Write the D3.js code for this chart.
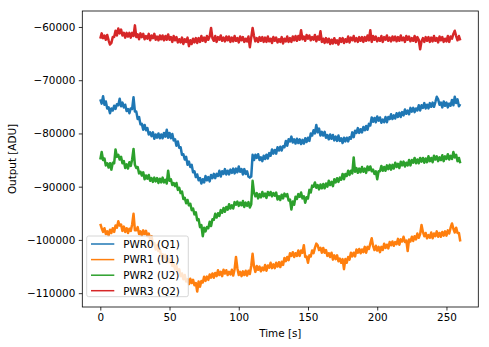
<!DOCTYPE html>
<html><head><meta charset="utf-8">
<script src="https://cdn.jsdelivr.net/npm/d3@7"></script>
<style>
html,body{margin:0;padding:0;background:#fff;}
text{font-family:"DejaVu Sans",sans-serif;}
</style></head>
<body><svg id="c" width="489" height="347"></svg>
<script>
const times = [0,1,2,3,4,5,6,7,8,9,10,11,12,13,14,15,16,17,18,19,20,21,22,23,24,25,26,27,28,29,30,31,32,33,34,35,36,37,38,39,40,41,42,43,44,45,46,47,48,49,50,51,52,53,54,55,56,57,58,59,60,61,62,63,64,65,66,67,68,69,70,71,72,73,74,75,76,77,78,79,80,81,82,83,84,85,86,87,88,89,90,91,92,93,94,95,96,97,98,99,100,101,102,103,104,105,106,107,108,109,110,111,112,113,114,115,116,117,118,119,120,121,122,123,124,125,126,127,128,129,130,131,132,133,134,135,136,137,138,139,140,141,142,143,144,145,146,147,148,149,150,151,152,153,154,155,156,157,158,159,160,161,162,163,164,165,166,167,168,169,170,171,172,173,174,175,176,177,178,179,180,181,182,183,184,185,186,187,188,189,190,191,192,193,194,195,196,197,198,199,200,201,202,203,204,205,206,207,208,209,210,211,212,213,214,215,216,217,218,219,220,221,222,223,224,225,226,227,228,229,230,231,232,233,234,235,236,237,238,239,240,241,242,243,244,245,246,247,248,249,250,251,252,253,254,255,256,257,258,259,260];

const pwr0 = [
-73600,-74400,-73000,-74600,-74000,-75300,-75100,-76200,-75300,-75700,
-74800,-75400,-74500,-74700,-73500,-74900,-74200,-75100,-74600,-75800,
-75400,-76200,-75300,-75400,-73200,-75900,-75900,-77300,-76900,-78300,
-78200,-79300,-78400,-79400,-79000,-80200,-79800,-80500,-79800,-81000,
-80200,-80800,-80000,-80900,-80200,-80900,-79900,-80600,-79300,-80800,
-79900,-80900,-80100,-81300,-81100,-82300,-81500,-82700,-82600,-84000,
-83900,-84900,-84400,-85900,-85300,-86300,-85900,-87300,-87100,-88200,
-87700,-88800,-88400,-89400,-88600,-89200,-88000,-88800,-88200,-89000,
-87800,-88400,-87600,-88400,-87600,-88000,-87000,-88100,-87100,-87600,
-86700,-87700,-87000,-87700,-86800,-87400,-86600,-87500,-86600,-87300,
-86200,-87200,-86700,-87700,-86700,-87600,-87100,-88100,-88300,-88100,
-84000,-85000,-84000,-84600,-83900,-85000,-84500,-85200,-84200,-84800,
-84000,-84700,-83700,-84200,-83000,-83800,-83100,-83800,-82600,-83200,
-82500,-83200,-82400,-82600,-81400,-82300,-81100,-81500,-80600,-81700,
-81100,-81900,-81000,-81800,-81100,-82000,-81200,-81900,-80900,-81600,
-80800,-81400,-80000,-80400,-79400,-80000,-78400,-79800,-79100,-80400,
-79700,-80400,-79700,-80800,-80300,-81100,-80200,-81000,-80300,-81300,
-80600,-81400,-80400,-81400,-80900,-81800,-80800,-81500,-80800,-81500,
-80700,-81000,-79800,-80700,-79500,-79900,-79000,-79900,-79200,-79800,
-78800,-79400,-78600,-79300,-78200,-78500,-77000,-77800,-77100,-77900,
-76800,-77600,-77000,-78000,-77400,-77900,-76900,-77900,-76900,-77300,
-76400,-77300,-76600,-77200,-76200,-76900,-76100,-76900,-76000,-76600,
-75500,-76300,-75700,-76400,-75200,-75900,-75200,-76000,-75300,-75700,
-74700,-75700,-74700,-75200,-74300,-75300,-74600,-75300,-74300,-75000,
-74200,-75000,-74100,-73100,-73600,-74600,-74200,-75100,-74000,-74800,
-74200,-75100,-74400,-74800,-73700,-74700,-73100,-74300,-73600,-74900,
-74500];

const pwr1 = [
-97000,-97800,-98500,-97800,-98900,-98400,-99200,-98100,-98700,-97800,
-98500,-97300,-97700,-96500,-97300,-97100,-98300,-97500,-98500,-97800,
-98700,-97900,-98300,-97100,-95100,-98200,-98200,-97600,-98900,-98400,
-99200,-98200,-98900,-98300,-99300,-98800,-99900,-99300,-100700,-100600,
-101800,-101000,-102100,-101800,-103000,-102700,-103500,-102800,-104200,-103500,
-104200,-103600,-104900,-104500,-105500,-104900,-105900,-105500,-106800,-106300,
-107400,-106600,-107800,-107400,-108300,-107300,-108100,-107500,-108500,-108100,
-109700,-107800,-108800,-107700,-108000,-106900,-107700,-106900,-107500,-106500,
-107100,-106300,-107100,-106200,-106800,-105700,-106600,-106000,-106800,-105600,
-106300,-105700,-106600,-106000,-106500,-105600,-106700,-105500,-103200,-105300,
-106600,-106000,-106800,-105900,-106600,-105800,-106700,-105800,-106400,-104900,
-102600,-105000,-106000,-104900,-105600,-105000,-105900,-105200,-105700,-104700,
-105800,-104800,-105200,-104300,-105300,-104600,-105300,-104300,-105000,-104200,
-105100,-104100,-104700,-103400,-104000,-103200,-103800,-102500,-103000,-102300,
-103200,-102500,-103000,-102000,-103000,-102000,-102400,-101000,-103200,-103100,
-104300,-102900,-103100,-102000,-102500,-101500,-100700,-101000,-101900,-101500,
-102400,-101500,-102400,-101900,-103000,-102500,-103200,-102400,-103700,-102900,
-103600,-102900,-104000,-103500,-104300,-103600,-105500,-103600,-104300,-103200,
-103700,-102400,-103100,-102400,-103100,-101800,-102400,-101700,-102500,-101800,
-102300,-101300,-102400,-101300,-101700,-100700,-99700,-101100,-101900,-101100,
-102000,-101300,-102300,-101300,-101900,-100700,-101500,-100900,-101600,-100400,
-101000,-100300,-101100,-100400,-100800,-99800,-100900,-99900,-100300,-99400,
-100400,-100100,-102100,-99900,-100300,-99400,-100200,-99300,-99900,-98800,
-99600,-98900,-97200,-98500,-99300,-98700,-99700,-99100,-99600,-98600,
-99700,-98800,-99300,-98400,-99400,-98700,-99400,-98500,-99200,-98400,
-99200,-98200,-98800,-97700,-96900,-97900,-98600,-97700,-98700,-98700,
-100300];

const pwr2 = [
-84900,-83500,-85000,-84700,-86000,-85600,-86400,-85600,-86800,-85500,
-85600,-83000,-84400,-84000,-84900,-84400,-85600,-85200,-86500,-85800,
-86600,-85400,-86100,-84900,-82900,-85900,-86500,-86300,-87500,-87200,
-87900,-87300,-88600,-87900,-88500,-87800,-88900,-88400,-89100,-88300,
-89000,-88400,-89300,-88500,-89200,-88300,-89200,-88700,-89400,-87000,
-88900,-88600,-89700,-89300,-89900,-89300,-90600,-90200,-91200,-90900,
-92300,-92100,-93100,-92500,-93500,-93200,-94400,-94100,-95200,-94800,
-96300,-96100,-97600,-97200,-99300,-97700,-98400,-97600,-97800,-96600,
-97400,-96100,-96200,-95100,-95800,-95000,-95500,-94400,-94900,-94000,
-94700,-93800,-94300,-93300,-94100,-93500,-94100,-92900,-93400,-92800,
-93600,-93000,-93500,-92700,-93800,-93000,-93600,-92900,-93900,-93300,
-88900,-91100,-91800,-91200,-92200,-91400,-92000,-91000,-91800,-91300,
-92100,-91000,-91600,-91000,-91800,-91200,-91700,-91100,-92400,-91800,
-92500,-91500,-92200,-91300,-91800,-91400,-92600,-92400,-94300,-92800,
-93400,-91900,-92300,-91400,-91900,-91100,-92200,-91800,-93000,-92000,
-92200,-90600,-91100,-89800,-90000,-89200,-90200,-89700,-90500,-89600,
-90300,-89500,-90300,-89400,-90000,-88900,-89700,-89100,-89900,-88600,
-89200,-88400,-89100,-88300,-88700,-87600,-88600,-87600,-88000,-87000,
-87800,-87000,-87500,-84500,-87200,-86500,-87400,-86600,-87300,-86300,
-87200,-86600,-87400,-86200,-86900,-86200,-87100,-86800,-87600,-87100,
-88600,-87100,-87100,-86100,-87000,-86300,-87000,-86000,-86700,-85900,
-86800,-85900,-86600,-85500,-86300,-85700,-86500,-85300,-86000,-85300,
-86200,-85500,-86000,-85000,-86000,-85000,-85500,-84600,-85600,-84900,
-85600,-84600,-85300,-84600,-85500,-84700,-85400,-84300,-85200,-84600,
-85400,-84200,-84900,-84300,-85200,-84500,-85000,-84100,-85200,-84300,
-84800,-83900,-84900,-84200,-84800,-83500,-84500,-84000,-85200,-84600,
-85600];

const pwr3 = [
-62200,-61200,-62100,-61600,-62400,-61500,-62500,-63300,-63000,-61900,
-61900,-60700,-61600,-60300,-61200,-60500,-61600,-61100,-62000,-61100,
-61800,-61100,-62000,-61100,-61700,-59700,-61900,-61400,-62300,-61200,
-61900,-61300,-62300,-61700,-62200,-61300,-62500,-61600,-62100,-61300,
-62400,-61800,-62500,-61600,-62300,-61600,-62500,-61700,-62400,-61400,
-62400,-61900,-62800,-61700,-62500,-61900,-62900,-62300,-62900,-62000,
-63200,-62300,-62800,-62000,-63600,-62500,-63200,-62200,-62900,-62100,
-63000,-62100,-62800,-61700,-62600,-62000,-62800,-61700,-62400,-61800,
-60200,-62100,-62600,-61700,-62800,-61900,-62400,-61600,-62600,-62000,
-62700,-61800,-62500,-61800,-62800,-62000,-62700,-61700,-62600,-62100,
-62900,-61800,-62500,-61900,-62800,-62200,-62700,-61800,-63800,-62000,
-60200,-61700,-62700,-62100,-62800,-61900,-62600,-61900,-62800,-62000,
-62800,-61800,-62700,-62200,-63000,-61900,-62600,-62000,-62900,-62300,
-62800,-61900,-63100,-62200,-62700,-61800,-62800,-62100,-62800,-61800,
-62500,-61700,-62600,-61700,-62400,-60600,-62300,-61800,-62600,-61500,
-62200,-61600,-62500,-61900,-62400,-61500,-62700,-61800,-62400,-60800,
-62800,-62200,-63000,-62100,-62900,-62200,-63200,-62400,-63100,-62100,
-63000,-62500,-63300,-62100,-62800,-62100,-63000,-62300,-62800,-61800,
-62900,-62000,-62500,-61700,-62700,-62100,-62800,-61900,-62600,-61900,
-62800,-61900,-62600,-61600,-62500,-60600,-62800,-61700,-62400,-61800,
-62700,-62100,-62600,-61700,-62800,-61900,-62400,-61600,-62600,-62000,
-62700,-61800,-62500,-61800,-62700,-61900,-62600,-61600,-62500,-62000,
-62800,-61700,-62400,-61800,-62700,-62100,-62600,-61700,-62800,-61900,
-62400,-64200,-62700,-62100,-62800,-61900,-62600,-61900,-62800,-62000,
-62700,-61700,-62600,-62100,-62900,-61800,-62500,-61900,-62800,-62200,
-62700,-61700,-62800,-61800,-62200,-61300,-60700,-61700,-62500,-61700,
-62500];

const seriesNames = ["PWR0 (Q1)","PWR1 (U1)","PWR2 (U2)","PWR3 (Q2)"];
const seriesValues = [pwr0, pwr1, pwr2, pwr3];
const colors = ["#1f77b4","#ff7f0e","#2ca02c","#d62728"];
const xTicks = [0,50,100,150,200,250];
const yTicks = [-60000,-70000,-80000,-90000,-100000,-110000];
const xLabel = "Time [s]";
const yLabel = "Output [ADU]";

const svg = d3.select("#c");
const L = 82.3, R = 478.3, T = 11, B = 307;
const x = d3.scaleLinear().domain([-13, 273]).range([L, R]);
const y = d3.scaleLinear().domain([-112600, -57000]).range([B, T]);
const fs = 10.4;

const line = d3.line().x((d,i)=>x(times[i])).y(d=>y(d));
const g = svg.append("g");
seriesValues.forEach((vals, k) => {
  g.append("path").datum(vals).attr("d", line)
    .attr("fill","none").attr("stroke", colors[k]).attr("stroke-width",2.5)
    .attr("stroke-linejoin","round").attr("stroke-linecap","butt");
});

const xAxis = d3.axisBottom(x).tickValues(xTicks).tickFormat(d3.format("d")).tickSizeInner(3.5).tickSizeOuter(0).tickPadding(3.5);
const yAxis = d3.axisLeft(y).tickValues(yTicks).tickFormat(d=>d3.format("d")(d).replace("-","\u2212")).tickSizeInner(3.5).tickSizeOuter(0).tickPadding(3.5);
const gx = svg.append("g").attr("transform",`translate(0,${B})`).call(xAxis);
const gy = svg.append("g").attr("transform",`translate(${L},0)`).call(yAxis);
[gx,gy].forEach(a=>{
  a.selectAll(".domain").remove();
  a.selectAll("line").attr("stroke","#000").attr("stroke-width",0.8);
  a.selectAll("text").attr("font-family","DejaVu Sans").attr("font-size",fs).attr("fill","#000");
});
svg.append("rect").attr("x",L).attr("y",T).attr("width",R-L).attr("height",B-T)
  .attr("fill","none").attr("stroke","#000").attr("stroke-width",0.8);

svg.append("text").attr("x",(L+R)/2).attr("y",337).attr("text-anchor","middle")
  .attr("font-size",fs).text(xLabel);
svg.append("text").attr("transform",`translate(15.5,${(T+B)/2}) rotate(-90)`)
  .attr("text-anchor","middle").attr("font-size",fs).text(yLabel);

const lg = svg.append("g");
lg.append("rect").attr("x",86.7).attr("y",236).attr("width",101.6).attr("height",60.7)
  .attr("rx",2).attr("fill","#fff").attr("fill-opacity",0.8)
  .attr("stroke","#cccccc").attr("stroke-width",0.8);
const ly = [244,259.6,275.2,290.7];
seriesNames.forEach((n,k)=>{
  lg.append("line").attr("x1",91).attr("x2",114.3).attr("y1",ly[k]).attr("y2",ly[k])
    .attr("stroke",colors[k]).attr("stroke-width",1.5);
  lg.append("text").attr("x",123.3).attr("y",ly[k]+3.8).attr("font-size",fs).text(n);
});
</script></body></html>
